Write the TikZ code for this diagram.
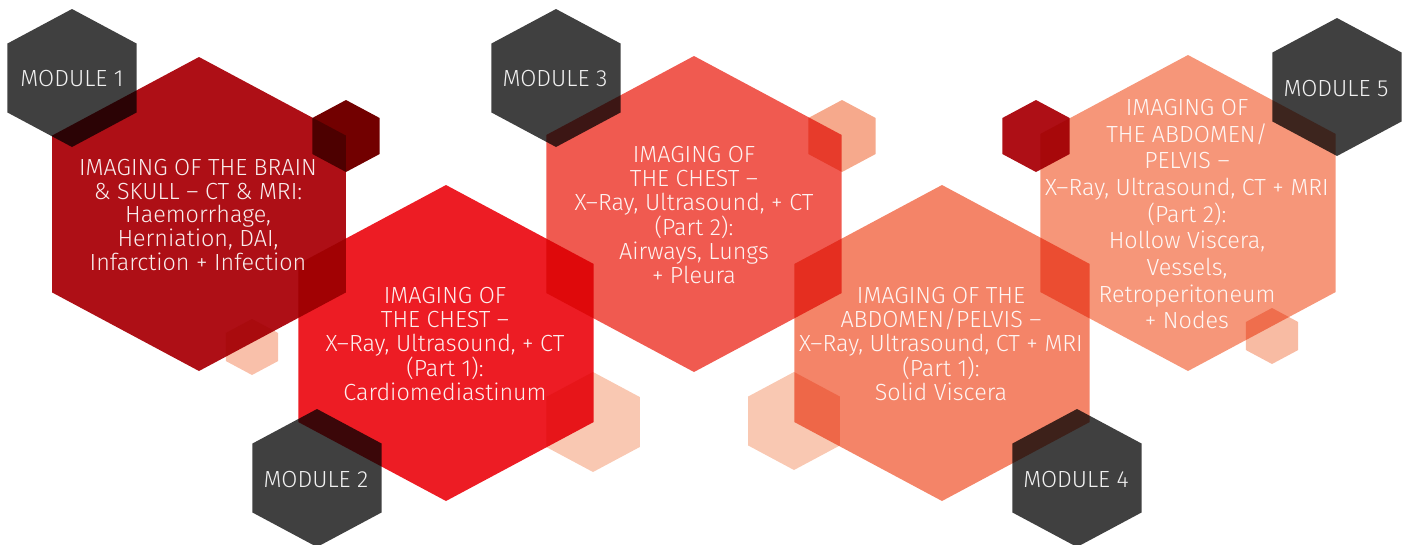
\documentclass[tikz,border=0pt]{standalone}
\usepackage{fontspec}
\IfFontExistsTF{Fira Sans Light}{\setmainfont{Fira Sans Light}}{\setmainfont{Fira Sans}}
\definecolor{modgray}{HTML}{404040}
\definecolor{hexA}{HTML}{AE0F16}
\definecolor{hexB}{HTML}{ED1C24}
\definecolor{hexC}{HTML}{F05A50}
\definecolor{hexD}{HTML}{F48468}
\definecolor{hexE}{HTML}{F69679}
\definecolor{darkred}{HTML}{720000}
\definecolor{peachA}{HTML}{F9C0AA}
\definecolor{peachB}{HTML}{F9C8B2}
\definecolor{peachC}{HTML}{F6A98C}
\definecolor{peachD}{HTML}{F8BBA3}
\newcommand\myhex[4]{\fill[#4, blend mode=multiply] (#1,#2) ++(0,-#3) -- ++({0.935*#3},{#3/2}) -- ++(0,#3) -- ++({-0.935*#3},{#3/2}) -- ++({-0.935*#3},{-#3/2}) -- ++(0,-#3) -- cycle;}
\tikzset{
  lbl/.style={text=white, text opacity=0.92, align=center, inner sep=0pt, font=\fontsize{17.5}{18}\selectfont},
  lblwide/.style={lbl, font=\fontsize{17.5}{20}\selectfont},
  modlbl/.style={lbl}
}
\begin{document}
\begin{tikzpicture}[x=0.75pt,y=-0.75pt]
\useasboundingbox (0,0) rectangle (1407,544);
% hexagons
\myhex{72}{78}{69}{modgray}
\myhex{199}{214}{157}{hexA}
\myhex{346}{136}{36}{darkred}
\myhex{252}{347}{28}{peachA}
\myhex{446}{343}{158}{hexB}
\myhex{317}{478}{69}{modgray}
\myhex{593}{422}{50}{peachB}
\myhex{694}{214}{158}{hexC}
\myhex{556}{78}{69}{modgray}
\myhex{842}{136}{36}{peachC}
\myhex{942}{343}{158}{hexD}
\myhex{1077}{478}{69}{modgray}
\myhex{794}{421}{49}{peachB}
\myhex{1188}{213}{158}{hexE}
\myhex{1337}{87}{69}{modgray}
\myhex{1036}{136}{36}{hexA}
\myhex{1272}{336}{28}{peachD}
% module labels
\node[modlbl] (m1) at (72,79) {MODULE 1};
\node[modlbl] (m2) at (316,479) {MODULE 2};
\node[modlbl] (m3) at (555,79) {MODULE 3};
\node[modlbl] (m4) at (1076,479) {MODULE 4};
\node[modlbl] (m5) at (1336,89) {MODULE 5};
% texts
\node[lbl] (t1) at (198,215) {IMAGING OF THE BRAIN\\ \& SKULL – CT \& MRI:\\ Haemorrhage,\\ Herniation, DAI,\\ Infarction + Infection};
\node[lbl] (t2) at (445,344) {IMAGING OF\\ THE CHEST –\\ X–Ray, Ultrasound, + CT\\ (Part 1):\\ Cardiomediastinum};
\node[lbl] (t3) at (694,215) {IMAGING OF\\ THE CHEST –\\ X–Ray, Ultrasound, + CT\\ (Part 2):\\ Airways, Lungs\\ + Pleura};
\node[lbl] (t4) at (941,344) {IMAGING OF THE\\ ABDOMEN/PELVIS –\\ X–Ray, Ultrasound, CT + MRI\\ (Part 1):\\ Solid Viscera};
\node[lblwide] (t5) at (1187,214) {IMAGING OF\\ THE ABDOMEN/\\ PELVIS –\\ X–Ray, Ultrasound, CT + MRI\\ (Part 2):\\ Hollow Viscera,\\ Vessels,\\ Retroperitoneum\\ + Nodes};
\end{tikzpicture}
\end{document}
